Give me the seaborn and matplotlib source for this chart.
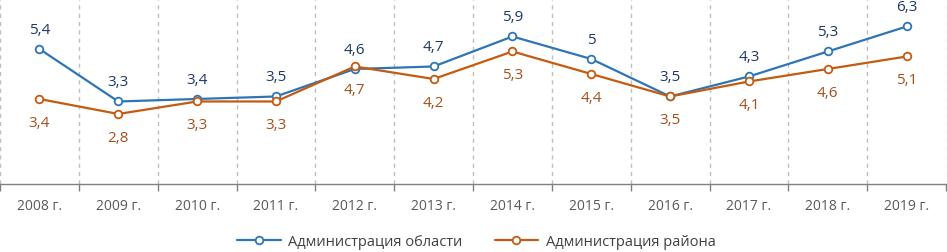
import numpy as np
import pandas as pd
import seaborn as sns
import matplotlib.pyplot as plt
from matplotlib.lines import Line2D

# Chart data
years = ['2008 г.', '2009 г.', '2010 г.', '2011 г.', '2012 г.', '2013 г.',
         '2014 г.', '2015 г.', '2016 г.', '2017 г.', '2018 г.', '2019 г.']
oblast = [5.4, 3.3, 3.4, 3.5, 4.6, 4.7, 5.9, 5.0, 3.5, 4.3, 5.3, 6.3]
rayon = [3.4, 2.8, 3.3, 3.3, 4.7, 4.2, 5.3, 4.4, 3.5, 4.1, 4.6, 5.1]
series_names = ['Администрация области', 'Администрация района']

blue = '#2E75B6'
orange = '#C55A11'

sns.set_style('white')
plt.rcParams['font.family'] = ['Open Sans', 'DejaVu Sans']

df = pd.DataFrame({
    'pos': list(range(len(years))) * 2,
    'value': oblast + rayon,
    'series': [series_names[0]] * len(years) + [series_names[1]] * len(years),
})

fig = plt.figure(figsize=(9.47, 2.52), dpi=100)
ax = fig.add_axes([0.0, 0.27, 0.999, 0.73])

sns.lineplot(data=df, x='pos', y='value', hue='series',
             palette=[blue, orange], marker='o', markersize=5.5,
             markerfacecolor='white', markeredgewidth=1.3,
             linewidth=1.6, ax=ax, legend=False)
for line, c in zip(ax.lines, [blue, orange]):
    line.set_markeredgecolor(c)

# data labels: area labels above, district labels below
for i, v in enumerate(oblast):
    ax.annotate(f'{v:g}'.replace('.', ','), (i, v), xytext=(0, 8),
                textcoords='offset points', ha='center', va='bottom',
                fontsize=11, color='#1F3864')
for i, v in enumerate(rayon):
    ax.annotate(f'{v:g}'.replace('.', ','), (i, v), xytext=(0, -12),
                textcoords='offset points', ha='center', va='top',
                fontsize=11, color='#A5501B')

ax.set_xlim(-0.5, len(years) - 0.5)
ax.set_ylim(0, 7.36)
ax.set_yticks([])
ax.set_xticks(range(len(years)))
ax.set_xticklabels(years, fontsize=10, color='#595959')
ax.set_xticks(np.arange(-0.5, len(years), 1.0), minor=True)
ax.tick_params(axis='x', which='major', length=0, pad=11)
ax.tick_params(axis='x', which='minor', length=5, color='#808080', width=1,
               direction='out', bottom=True)
ax.grid(axis='x', which='minor', linestyle=(0, (3, 3)), color='#BFBFBF',
        linewidth=1)
ax.set_xlabel('')
ax.set_ylabel('')
for s in ['top', 'right', 'left']:
    ax.spines[s].set_visible(False)
ax.spines['bottom'].set_color('#808080')
ax.spines['bottom'].set_linewidth(1)

handles = [Line2D([], [], color=c, linewidth=1.6, marker='o', markersize=5.5,
                  markerfacecolor='white', markeredgecolor=c,
                  markeredgewidth=1.3) for c in [blue, orange]]
fig.legend(handles, series_names, loc='center',
           bbox_to_anchor=(0.503, 10 / 252), ncol=2, frameon=False,
           fontsize=10.5, handlelength=3.0, handletextpad=0.5,
           columnspacing=2.2, labelcolor='#404040')

fig.savefig('out.png', dpi=100)
